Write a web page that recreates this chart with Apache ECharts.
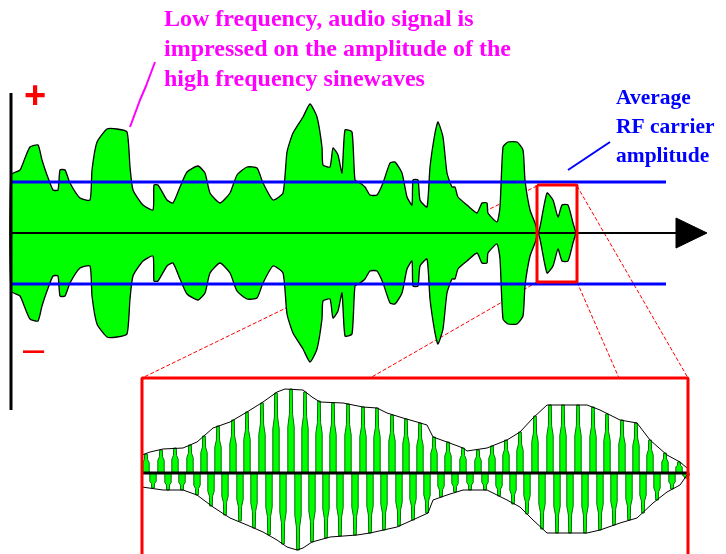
<!DOCTYPE html>
<html>
<head>
<meta charset="utf-8">
<script src="https://cdn.jsdelivr.net/npm/echarts@6/dist/echarts.min.js"></script>
<style>
  html, body { margin: 0; padding: 0; background: #fff; }
  #chart { width: 726px; height: 554px; }
</style>
</head>
<body>
<div id="chart"></div>
<script>
// main picture: audio envelope (amplitude above the carrier axis)
const AXIS_Y = 233
const AVG_CARRIER = 51
const mainX = [11, 20, 25, 30, 38, 42, 47, 53, 58, 60, 65, 70, 80, 90, 92, 97, 107, 117, 127, 130, 133, 143, 153, 154, 158, 167, 173, 180, 187, 198, 205, 210, 220, 230, 237, 247, 257, 263, 273, 283, 287, 293, 303, 310, 317, 322, 323, 330, 333, 338, 342, 345, 352, 355, 360, 365, 370, 377, 383, 390, 395, 402, 407, 412, 413, 418, 420, 427, 430, 435, 438, 443, 447, 452, 455, 458, 467, 477, 482, 487, 488, 497, 500, 503, 508, 517, 523, 525, 530, 535, 538, 540, 547, 553, 558, 562, 568, 573, 576]
const mainAmp = [58, 63, 75, 86, 88, 73, 58, 43, 43, 63, 63, 50, 35, 33, 63, 91, 104, 104, 101, 66, 43, 28, 23, 48, 48, 33, 30, 46, 61, 67, 60, 40, 30, 40, 58, 66, 65, 50, 33, 40, 81, 100, 116, 129, 116, 86, 68, 66, 85, 78, 60, 103, 101, 53, 50, 46, 38, 38, 50, 70, 71, 60, 36, 28, 53, 53, 33, 26, 66, 100, 111, 96, 60, 46, 46, 36, 28, 20, 30, 30, 20, 11, 26, 86, 91, 91, 83, 53, 23, 10, 0, 6, 40, 33, 16, 28, 28, 10, 0]

// inset: RF carrier under the envelope
const INSET_AXIS_Y = 473
const envUpX = [142, 150, 163, 183, 197, 213, 230, 247, 263, 277, 285, 303, 312, 320, 343, 363, 377, 387, 403, 417, 427, 433, 447, 463, 467, 487, 507, 520, 533, 547, 587, 600, 620, 637, 650, 667, 680, 687]
const envUpAmp = [18, 21, 24, 25, 31, 45, 51, 61, 71, 81, 84, 83, 76, 71, 70, 66, 65, 60, 55, 51, 48, 36, 31, 25, 22, 25, 33, 41, 55, 68, 68, 63, 53, 50, 33, 18, 11, 5]
const envDownX = [142, 163, 183, 197, 213, 230, 247, 263, 277, 287, 297, 303, 312, 330, 357, 370, 397, 417, 428, 433, 447, 463, 487, 507, 520, 533, 547, 587, 600, 620, 637, 653, 667, 680, 687]
const envDownAmp = [14, 17, 17, 22, 34, 45, 52, 59, 67, 74, 77, 75, 69, 64, 62, 60, 54, 45, 40, 27, 22, 17, 17, 27, 34, 47, 60, 60, 57, 50, 45, 30, 19, 12, 2]
const peakUpX = [146, 161, 175, 190, 204, 218, 233, 247, 262, 276, 291, 305, 319, 333, 348, 363, 377, 392, 406, 420, 434, 448, 463, 478, 492, 506, 520, 535, 550, 563, 578, 593, 607, 622, 636, 650, 665, 679]
const peakUpAmp = [19, 23, 25, 28, 37, 47, 53, 61, 70, 80, 84, 81, 72, 70, 69, 66, 65, 58, 54, 50, 36, 31, 25, 23, 27, 33, 41, 57, 68, 68, 68, 66, 59, 53, 50, 33, 20, 11]
const peakDownX = [153, 168, 182, 197, 211, 225, 240, 254, 269, 283, 298, 312, 326, 340, 355, 370, 384, 399, 413, 427, 441, 455, 470, 485, 499, 513, 527, 542, 557, 570, 585, 600, 614, 629, 643, 657, 672, 686]
const peakDownAmp = [15, 17, 17, 22, 33, 42, 48, 55, 62, 71, 77, 69, 65, 63, 62, 60, 57, 53, 47, 40, 24, 19, 17, 17, 23, 31, 41, 56, 60, 60, 60, 57, 52, 47, 40, 27, 16, 5]

// straight strokes of the drawing
const vAxis = [[11, 93], [11, 410]]
const hAxis = [[11, AXIS_Y], [680, AXIS_Y]]
const arrowHead = [[676, 218], [707, 233], [676, 248]]
const avgTop = [[11, AXIS_Y - AVG_CARRIER], [666, AXIS_Y - AVG_CARRIER]]
const avgBottom = [[11, AXIS_Y + AVG_CARRIER], [666, AXIS_Y + AVG_CARRIER]]
const zoomBox = [[537, 185], [577, 185], [577, 282], [537, 282], [537, 185]]
const insetBox = [[142, 560], [142, 378], [688, 378], [688, 560]]
const insetAxis = [[142, INSET_AXIS_Y], [688, INSET_AXIS_Y]]
const connectors = [
  [[537, 186], [142, 378]],
  [[537, 282], [370, 378]],
  [[577, 186], [688, 378]],
  [[577, 282], [619, 378]]
]
const audioPointer = [[130, 127], [140, 100], [146, 86], [155, 62]]
const rfPointer = [[568, 170], [610, 142]]

function seg(data, color, width, type, z) {
  return {
    type: 'line', data: data, symbol: 'none', silent: true, z: z || 3,
    lineStyle: { color: color, width: width, type: type || 'solid', cap: 'butt' }
  }
}

function polygonSeries(build, fill, stroke, width, z, smooth) {
  return {
    type: 'custom', data: [[0, 0]], silent: true, z: z || 2,
    renderItem: function (params, api) {
      return {
        type: 'polygon',
        shape: { points: build(api), smooth: smooth || 0 },
        style: { fill: fill, stroke: stroke, lineWidth: width }
      }
    }
  }
}

// tapered carrier stroke, dir = -1 up, 1 down
function carrierBars(xs, amps, dir) {
  return {
    type: 'custom', silent: true, z: 4,
    data: xs.map((x, i) => [x, amps[i]]),
    renderItem: function (params, api) {
      const b = api.coord([api.value(0), INSET_AXIS_Y])
      const t = api.coord([api.value(0), INSET_AXIS_Y + dir * api.value(1)])
      const h = t[1] - b[1]
      const pts = [
        [b[0] - 3.2, b[1]], [b[0] - 3.2, b[1] + h * 0.55], [b[0] - 1.6, b[1] + h * 0.7],
        [b[0] - 1.3, t[1]], [b[0] + 1.3, t[1]], [b[0] + 1.6, b[1] + h * 0.7],
        [b[0] + 3.2, b[1] + h * 0.55], [b[0] + 3.2, b[1]]
      ]
      return {
        type: 'polygon', shape: { points: pts },
        style: { fill: '#00ff00', stroke: '#0b6b0b', lineWidth: 1 }
      }
    }
  }
}

const series = [
  polygonSeries(function (api) {
    const up = mainX.map((x, i) => api.coord([x, AXIS_Y - mainAmp[i]]))
    const down = mainX.map((x, i) => api.coord([x, AXIS_Y + mainAmp[i]])).reverse()
    return up.concat(down)
  }, '#00ff00', '#000', 1.3, 2, 0.18),
  seg(avgTop, '#0000ff', 3),
  seg(avgBottom, '#0000ff', 3),
  seg(hAxis, '#000', 2),
  polygonSeries(function (api) {
    return arrowHead.map(p => api.coord(p))
  }, '#000', '#000', 1, 3),
  seg(vAxis, '#000', 3),
  seg(zoomBox, '#ff0000', 3, 'solid', 5),
  seg(audioPointer, '#ff00ff', 2),
  seg(rfPointer, '#0000ff', 2)
]
connectors.forEach(c => series.push(seg(c, '#ff0000', 1, [4, 2], 1)))
series.push(
  carrierBars(peakUpX, peakUpAmp, -1),
  carrierBars(peakDownX, peakDownAmp, 1),
  seg(envUpX.map((x, i) => [x, INSET_AXIS_Y - envUpAmp[i]]), '#000', 1, 'solid', 5),
  seg(envDownX.map((x, i) => [x, INSET_AXIS_Y + envDownAmp[i]]), '#000', 1, 'solid', 5),
  seg(insetAxis, '#000', 3, 'solid', 6),
  seg(insetBox, '#ff0000', 3, 'solid', 6)
)

const serif = '"Liberation Serif", "Times New Roman", serif'
const option = {
  animation: false,
  backgroundColor: '#fff',
  grid: { left: 0, right: 0, top: 0, bottom: 0 },
  xAxis: { type: 'value', min: 0, max: 726, show: false },
  yAxis: { type: 'value', min: 0, max: 554, inverse: true, show: false },
  graphic: [
    {
      type: 'text', left: 164, top: 5,
      style: {
        text: 'Low frequency, audio signal is\nimpressed on the amplitude of the\nhigh frequency sinewaves',
        font: 'bold 24px ' + serif, fill: '#ff00ff', lineHeight: 30
      }
    },
    {
      type: 'text', left: 616, top: 84,
      style: {
        text: 'Average\nRF carrier\namplitude',
        font: 'bold 21.5px ' + serif, fill: '#0000ff', lineHeight: 29
      }
    },
    { type: 'text', left: 24, top: 79, style: { text: '+', font: 'bold 38px "Liberation Sans", Arial', fill: '#ff0000' } },
    { type: 'text', left: 23, top: 333, style: { text: '–', font: '38px "Liberation Sans", Arial', fill: '#ff0000' } }
  ],
  series: series
}

var myChart = echarts.init(document.getElementById('chart'))
myChart.setOption(option)
</script>
</body>
</html>
